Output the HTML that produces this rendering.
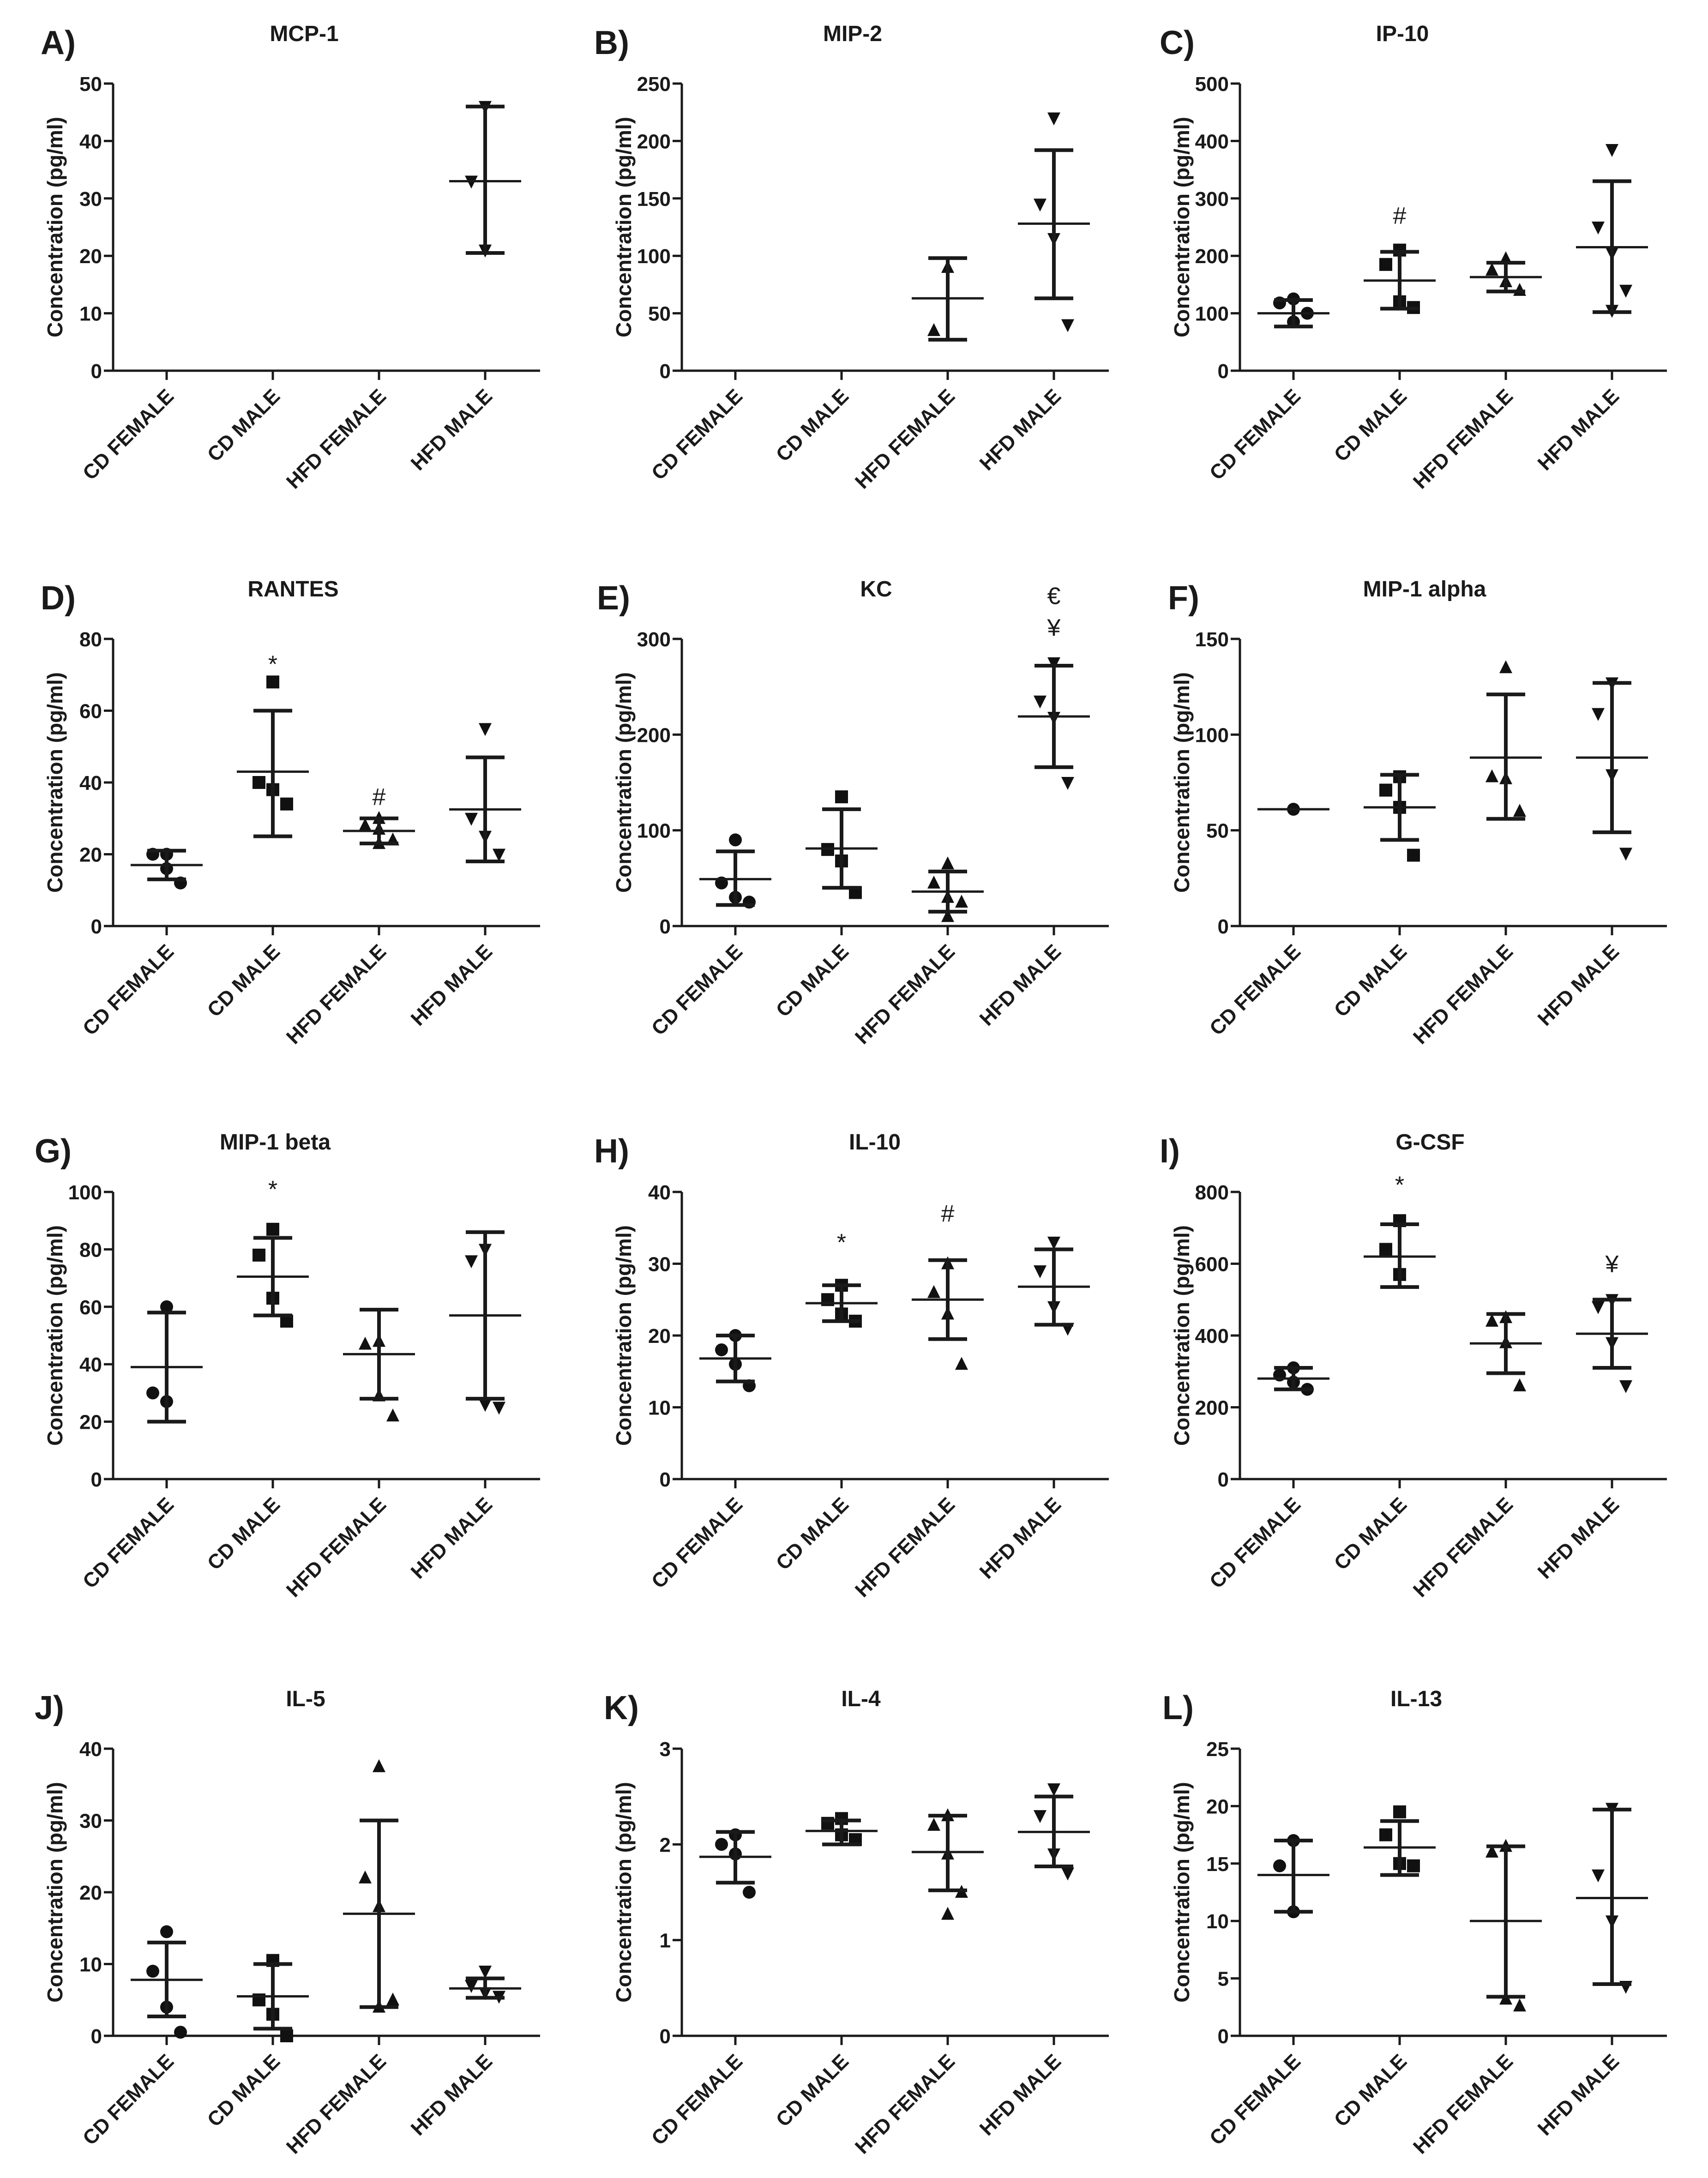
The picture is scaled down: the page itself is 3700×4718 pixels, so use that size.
<!DOCTYPE html>
<html><head><meta charset="utf-8"><style>
html,body{margin:0;padding:0;background:#fff;}
svg{display:block;font-family:"Liberation Sans",Arial,sans-serif;}
</style></head><body>
<svg id="fig" width="3700" height="4718" viewBox="0 0 3700 4718" xmlns="http://www.w3.org/2000/svg"></svg>
<script>
const categories = ["CD FEMALE","CD MALE","HFD FEMALE","HFD MALE"];
const titles = ["MCP-1","MIP-2","IP-10","RANTES","KC","MIP-1 alpha","MIP-1 beta","IL-10","G-CSF","IL-5","IL-4","IL-13"];
const letters = ["A)","B)","C)","D)","E)","F)","G)","H)","I)","J)","K)","L)"];
const yMax = [50,250,500,80,300,150,100,40,800,40,3,25];
const yStep = [10,50,100,20,100,50,20,10,200,10,1,5];
const pointsA = [[],[],[],[46,33,21]];
const pointsB = [[],[],[90,35],[220,145,115,40]];
const pointsC = [[125,118,85,100],[210,185,120,110],[195,175,155,140],[385,250,205,140,105]];
const pointsD = [[20,20,16,12],[68,40,38,34],[30,28,27,24,23],[55,30,25,20]];
const pointsE = [[90,45,30,25],[135,80,68,35],[65,45,30,25,10],[275,235,218,150]];
const pointsF = [[61],[78,71,62,37],[135,78,77,60],[127,111,79,38]];
const pointsG = [[60,30,27],[87,78,63,55],[48,47,29,22],[80,76,26,25]];
const pointsH = [[20,18,16,13],[27,25,23,22],[30,26,23,16],[33,29,24,21]];
const pointsI = [[310,290,270,250],[720,640,570],[450,440,380,260],[500,480,380,260]];
const pointsJ = [[14.5,9,4,0.5],[10.5,5,3,0],[37.5,22,18,5,4],[9,7,6,5.5]];
const pointsK = [[2.1,2.0,1.9,1.5],[2.27,2.22,2.1,2.05],[2.3,2.2,1.9,1.5,1.27],[2.58,2.3,1.9,1.7]];
const pointsL = [[17,14.8,10.8],[19.5,17.5,15,14.8],[16.5,16,3.2,2.6],[19.8,14,10,4.3]];
const allPoints = [pointsA,pointsB,pointsC,pointsD,pointsE,pointsF,pointsG,pointsH,pointsI,pointsJ,pointsK,pointsL];
const means = [[null,null,null,33],[null,null,63,128],[100,157,163,215],[17,43,26.5,32.5],[49,81,36,219],[61,62,88,88],[39,70.5,43.5,57],[16.8,24.5,25,26.8],[280,620,378,405],[7.8,5.5,17,6.6],[1.87,2.14,1.92,2.13],[14,16.4,10,12]];
const upper = [[null,null,null,46],[null,null,98,192],[123,207,188,330],[21,60,30,47],[78,122,57,272],[null,79,121,127],[58,84,59,86],[20,27,30.5,32],[310,710,460,500],[13,10,30,8],[2.13,2.25,2.3,2.5],[17,18.7,16.5,19.7]];
const lower = [[null,null,null,20.5],[null,null,27,63],[77,108,138,102],[13,25,23,18],[22,40,15,166],[null,45,56,49],[20,57,28,28],[13.6,22,19.5,21.5],[250,535,295,310],[2.7,1,4,5.3],[1.6,2.0,1.52,1.77],[10.8,14,3.4,4.5]];
const annotPanel = [2,3,3,4,4,6,7,7,8,8];
const annotGroup = [1,1,2,3,3,1,1,2,1,3];
const annotValue = [270,73,36,345,312,101,33,37,820,600];
const annotText = ["#","*","#","€","¥","*","*","#","*","¥"];

const NS="http://www.w3.org/2000/svg";
const svg=document.getElementById('fig');
const colX=[245,1477,2686];
const rowZero=[803,2006,3204,4410];
const AXH=622, AXL=925, T0=116, TS=230;
const titleX=[659,1847,3038,635,1898,3086,596,1895,3098,662,1865,3068];
const letterX=[88,1287,2512,88,1293,2530,75,1287,2512,75,1308,2518];
const jit=[0,-30,0,30,0,-20];
function el(tag,attrs,parent){const e=document.createElementNS(NS,tag);for(const k in attrs)e.setAttribute(k,attrs[k]);(parent||svg).appendChild(e);return e;}
function txt(s,attrs,parent){const e=el('text',attrs,parent);e.textContent=s;return e;}

for(let p=0;p<12;p++){
  const r=Math.floor(p/3), c=p%3;
  const x0=colX[c], y0=rowZero[r];
  const yS=v=>y0-v/yMax[p]*AXH;
  const xS=g=>x0+T0+g*TS;
  const g=el('g',{});
  
  
  const lt=txt(letters[p],{x:letterX[p],y:y0-AXH-64,'font-size':72,'font-weight':'bold',fill:'#1a1a1a'},g);
  
  
  const tt=txt(titles[p],{x:titleX[p],y:y0-AXH-92,'font-size':48,'font-weight':'bold','text-anchor':'middle',fill:'#1a1a1a'},g);
  
  
  const ya=el('path',{d:`M${x0} ${y0-AXH}V${y0}H${x0+AXL}`,stroke:'#1a1a1a','stroke-width':5,fill:'none'},g);
  
  
  for(let v=0;v<=yMax[p]+1e-9;v+=yStep[p]){
    el('line',{x1:x0-20,x2:x0,y1:yS(v),y2:yS(v),stroke:'#1a1a1a','stroke-width':5},g);
    const tl=txt(String(Math.round(v*100)/100),{x:x0-24,y:yS(v)+16,'font-size':44,'font-weight':'bold','text-anchor':'end',fill:'#1a1a1a'},g);
    
    
  }
  const yt=txt("Concentration (pg/ml)",{x:0,y:0,'font-size':46,'font-weight':'bold','text-anchor':'middle',fill:'#1a1a1a',transform:`translate(${x0-110},${y0-AXH/2}) rotate(-90)`},g);
  
  
  for(let k=0;k<4;k++){
    const cx=xS(k);
    el('line',{x1:cx,x2:cx,y1:y0,y2:y0+20,stroke:'#1a1a1a','stroke-width':5},g);
    const cl=txt(categories[k],{x:0,y:0,'font-size':44,'font-weight':'bold','text-anchor':'end',fill:'#1a1a1a',transform:`translate(${cx+18},${y0+58}) rotate(-45)`},g);
    
    
    const pts=allPoints[p][k];
    pts.forEach((v,i)=>{
      const px=cx+jit[i%jit.length], py=yS(v); let m;
      if(k===0) m=el('circle',{cx:px,cy:py,r:14,fill:'#111'},g);
      else if(k===1) m=el('rect',{x:px-14,y:py-14,width:28,height:28,fill:'#111'},g);
      else if(k===2) m=el('path',{d:`M${px} ${py-16}L${px+14} ${py+12}L${px-14} ${py+12}Z`,fill:'#111'},g);
      else m=el('path',{d:`M${px} ${py+16}L${px+14} ${py-12}L${px-14} ${py-12}Z`,fill:'#111'},g);
      
      
    });
    if(means[p][k]!==null){
      const ml=el('line',{x1:cx-78,x2:cx+78,y1:yS(means[p][k]),y2:yS(means[p][k]),stroke:'#1a1a1a','stroke-width':5},g);
      
      
    }
    if(upper[p][k]!==null){
      const eb=el('path',{d:`M${cx} ${yS(upper[p][k])}V${yS(lower[p][k])}M${cx-42} ${yS(upper[p][k])}H${cx+42}M${cx-42} ${yS(lower[p][k])}H${cx+42}`,stroke:'#1a1a1a','stroke-width':8,fill:'none'},g);
      
      
    }
  }
  for(let a=0;a<annotPanel.length;a++){
    if(annotPanel[a]!==p) continue;
    const at=txt(annotText[a],{x:xS(annotGroup[a]),y:yS(annotValue[a])+18,'font-size':52,'text-anchor':'middle',fill:'#1a1a1a'},g);
    
    
  }
}
</script>
</body></html>
